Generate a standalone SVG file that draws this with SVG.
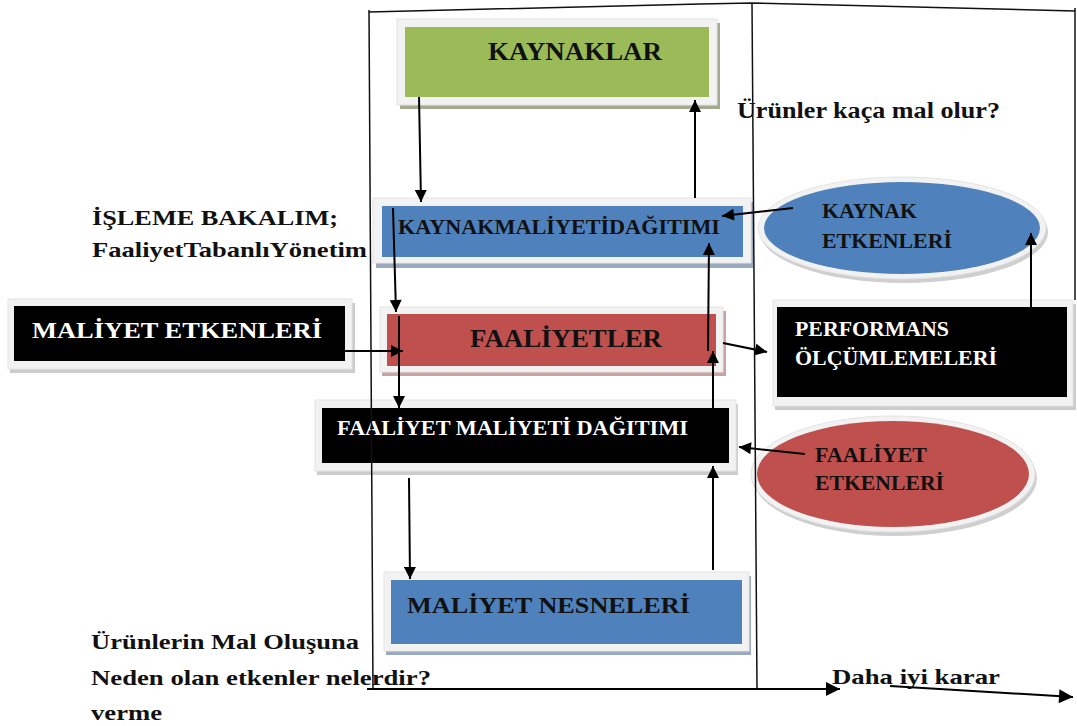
<svg xmlns="http://www.w3.org/2000/svg" width="1077" height="726" viewBox="0 0 1077 726">
<defs>
<marker id="ah" viewBox="0 0 10 10" refX="10" refY="5" markerWidth="14" markerHeight="12" markerUnits="userSpaceOnUse" orient="auto"><path d="M0,0 L10,5 L0,10 z" fill="#000"/></marker>
<marker id="ahb" viewBox="0 0 10 10" refX="10" refY="5" markerWidth="16" markerHeight="14" markerUnits="userSpaceOnUse" orient="auto"><path d="M0,0 L10,5 L0,10 z" fill="#000"/></marker>
</defs>
<style>
.t{font-family:"Liberation Serif","Times New Roman",serif;font-weight:bold;fill:#111;}
.w{fill:#fff;}
.frame{fill:#f2f2f2;stroke:#e4e4e4;stroke-width:1;}
.c{stroke:#000;stroke-width:2;fill:none;}
.fl{stroke:#111;stroke-width:1.5;fill:none;}
</style>
<rect width="1077" height="726" fill="#fff"/>

<g id="kaynaklar">
<rect x="400" y="23" width="320" height="86" fill="#a3ab8e"/>
<rect x="397" y="19" width="320" height="86" class="frame"/>
<rect x="405" y="27" width="304" height="70" fill="#9bbb59"/>
<text x="488" y="60" class="t" font-size="25" textLength="174" lengthAdjust="spacingAndGlyphs">KAYNAKLAR</text>
</g>

<g id="kaynak-maliyeti-dagitimi">
<rect x="376" y="202" width="377" height="66" fill="#9aa9bd"/>
<rect x="373" y="198" width="378" height="65" class="frame"/>
<rect x="382" y="206" width="361" height="51" fill="#4f81bd"/>
<text x="398" y="234" class="t" font-size="22" textLength="322" lengthAdjust="spacingAndGlyphs">KAYNAKMALİYETİDAĞITIMI</text>
</g>

<g id="faaliyetler">
<rect x="382" y="311" width="344" height="65" fill="#c9a3a3"/>
<rect x="380" y="307" width="343" height="65" class="frame"/>
<rect x="387" y="314" width="329" height="52" fill="#c0504d"/>
<text x="470" y="347" class="t" font-size="25" textLength="192" lengthAdjust="spacingAndGlyphs">FAALİYETLER</text>
</g>

<g id="maliyet-etkenleri">
<rect x="10" y="303" width="345" height="70" fill="#cccccc"/>
<rect x="8" y="299" width="344" height="70" class="frame"/>
<rect x="14" y="306" width="331" height="55" fill="#000"/>
<text x="32" y="338" class="t w" font-size="23" textLength="290" lengthAdjust="spacingAndGlyphs">MALİYET ETKENLERİ</text>
</g>

<g id="faaliyet-maliyeti-dagitimi">
<rect x="317" y="404" width="421" height="71" fill="#cccccc"/>
<rect x="315" y="400" width="421" height="71" class="frame"/>
<rect x="322" y="408" width="407" height="55" fill="#000"/>
<text x="337" y="435" class="t w" font-size="21" textLength="351" lengthAdjust="spacingAndGlyphs">FAALİYET MALİYETİ DAĞITIMI</text>
</g>

<g id="maliyet-nesneleri">
<rect x="386" y="576" width="365" height="79" fill="#9aa9bd"/>
<rect x="384" y="572" width="365" height="79" class="frame"/>
<rect x="391" y="580" width="351" height="64" fill="#4f81bd"/>
<text x="407" y="613" class="t" font-size="23" textLength="283" lengthAdjust="spacingAndGlyphs">MALİYET NESNELERİ</text>
</g>

<g id="kaynak-etkenleri">
<ellipse cx="904" cy="232" rx="144" ry="51" fill="#cfcfcf"/>
<ellipse cx="902" cy="228" rx="144" ry="51" class="frame"/>
<ellipse cx="902" cy="228" rx="138" ry="46" fill="#4f81bd"/>
<text x="822" y="218" class="t" font-size="21" textLength="95" lengthAdjust="spacingAndGlyphs">KAYNAK</text>
<text x="822" y="248" class="t" font-size="21" textLength="130" lengthAdjust="spacingAndGlyphs">ETKENLERİ</text>
</g>

<g id="performans-olcumlemeleri">
<rect x="775" y="304" width="301" height="106" fill="#cccccc"/>
<rect x="773" y="300" width="300" height="106" class="frame"/>
<rect x="777" y="307" width="290" height="90" fill="#000"/>
<text x="795" y="336" class="t w" font-size="21.5" textLength="154" lengthAdjust="spacingAndGlyphs">PERFORMANS</text>
<text x="795" y="365" class="t w" font-size="21.5" textLength="202" lengthAdjust="spacingAndGlyphs">ÖLÇÜMLEMELERİ</text>
</g>

<g id="faaliyet-etkenleri">
<ellipse cx="895" cy="478" rx="142" ry="58" fill="#cfcfcf"/>
<ellipse cx="893" cy="474" rx="142" ry="58" class="frame"/>
<ellipse cx="893" cy="474" rx="136" ry="53" fill="#c0504d"/>
<text x="815" y="462" class="t" font-size="21.5" textLength="112" lengthAdjust="spacingAndGlyphs">FAALİYET</text>
<text x="815" y="490" class="t" font-size="21.5" textLength="129" lengthAdjust="spacingAndGlyphs">ETKENLERİ</text>
</g>

<g id="labels">
<text x="737" y="118" class="t" font-size="23" textLength="263" lengthAdjust="spacingAndGlyphs">Ürünler kaça mal olur?</text>
<text x="92" y="225" class="t" font-size="22" textLength="246" lengthAdjust="spacingAndGlyphs">İŞLEME BAKALIM;</text>
<text x="92" y="257" class="t" font-size="22" textLength="275" lengthAdjust="spacingAndGlyphs">FaaliyetTabanlıYönetim</text>
<text x="91" y="649" class="t" font-size="22" textLength="268" lengthAdjust="spacingAndGlyphs">Ürünlerin Mal Oluşuna</text>
<text x="91" y="685" class="t" font-size="22" textLength="340" lengthAdjust="spacingAndGlyphs">Neden olan etkenler nelerdir?</text>
<text x="91" y="720" class="t" font-size="22" textLength="71" lengthAdjust="spacingAndGlyphs">verme</text>
<text x="832" y="684" class="t" font-size="22" textLength="168" lengthAdjust="spacingAndGlyphs">Daha iyi karar</text>
</g>

<g id="connectors">
<line x1="419" y1="97" x2="421" y2="202" class="c" marker-end="url(#ah)"/>
<line x1="695" y1="198" x2="695" y2="100" class="c" marker-end="url(#ah)"/>
<line x1="393" y1="208" x2="396" y2="312" class="c" marker-end="url(#ah)"/>
<line x1="399" y1="316" x2="399" y2="408" class="c" marker-end="url(#ah)"/>
<line x1="345" y1="351" x2="403" y2="351" class="c" marker-end="url(#ah)"/>
<line x1="409" y1="478" x2="410" y2="579" class="c" marker-end="url(#ah)"/>
<line x1="713" y1="570" x2="713" y2="466" class="c" marker-end="url(#ah)"/>
<line x1="713" y1="408" x2="713" y2="351" class="c" marker-end="url(#ah)"/>
<line x1="708" y1="351" x2="709" y2="243" class="c" marker-end="url(#ah)"/>
<line x1="723" y1="343" x2="767" y2="352" class="c" marker-end="url(#ah)"/>
<line x1="793" y1="208" x2="722" y2="216" class="c" marker-end="url(#ah)"/>
<line x1="1031" y1="307" x2="1031" y2="233" class="c" marker-end="url(#ah)"/>
<line x1="805" y1="454" x2="739" y2="447" class="c" marker-end="url(#ah)"/>
<line x1="367" y1="689" x2="840" y2="689" class="c" marker-end="url(#ahb)"/>
<line x1="890" y1="686" x2="1073" y2="697" class="c" marker-end="url(#ahb)"/>
<polyline points="369,12 700,4 752,3 1075,11" class="fl"/>
<line x1="369" y1="10" x2="373" y2="690" class="fl"/>
<line x1="752" y1="3" x2="757" y2="688" class="fl"/>
<line x1="1075" y1="8" x2="1075" y2="300" class="fl"/>
</g>
</svg>
